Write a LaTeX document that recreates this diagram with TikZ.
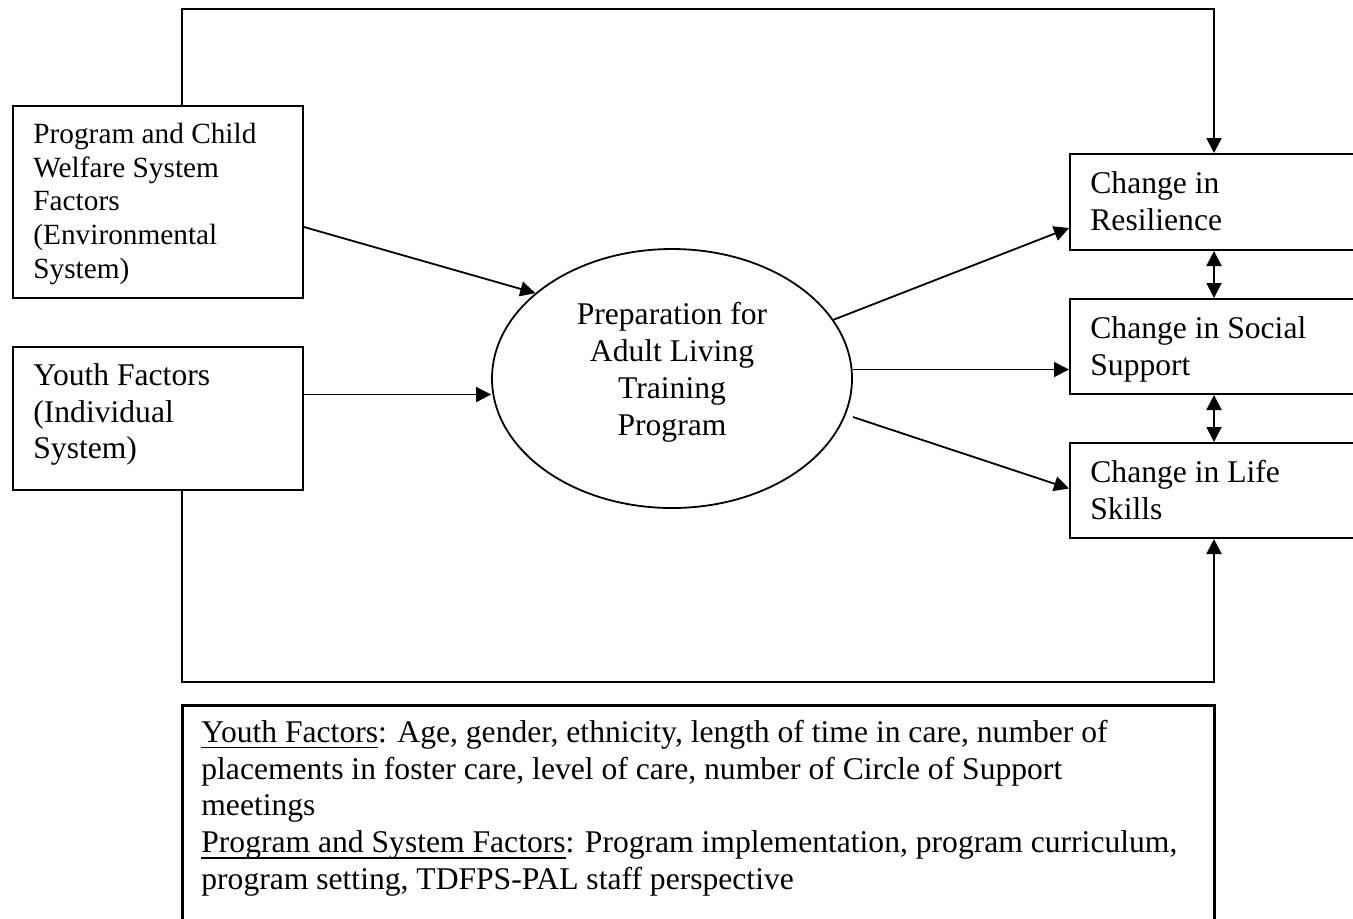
\documentclass[tikz,border=0pt]{standalone}
\usepackage{fontspec}
\setmainfont{Liberation Serif}
\usetikzlibrary{arrows.meta,shapes.geometric,calc}
\newcommand\myul[1]{\setbox0\hbox{#1}\rlap{\rule[-3pt]{\wd0}{0.7pt}}\box0}
\begin{document}
\begin{tikzpicture}[x=0.5pt,y=-0.5pt,
  box/.style={draw,line width=1pt,rectangle,inner sep=0pt,anchor=north west},
  txtA/.style={anchor=north west,inner sep=0pt,align=left,font=\fontsize{15.8}{18.4}\selectfont},
  txtB/.style={anchor=north west,inner sep=0pt,align=left,font=\fontsize{14.65}{16.85}\selectfont},
  conn/.style={line width=0.9pt},
  arr/.style={conn,-{Triangle[length=7.5pt,width=7.5pt]}},
  darr/.style={conn,{Triangle[length=7.5pt,width=7.5pt]}-{Triangle[length=7.5pt,width=7.5pt]}}
]
\useasboundingbox (0,0) rectangle (1353,918);
\fill[white] (0,0) rectangle (1353,918);
\clip (0,0) rectangle (1353,918);

% boxes
\node[box,minimum width=145pt,minimum height=96pt] (b1) at (12,105) {};
\node[box,minimum width=145pt,minimum height=71.5pt] (b2) at (12,346) {};
\node[box,minimum width=144pt,minimum height=48pt] (res) at (1069,153) {};
\node[box,minimum width=144pt,minimum height=47.5pt] (soc) at (1069,298) {};
\node[box,minimum width=144pt,minimum height=47.5pt] (life) at (1069,442) {};
\node[box,line width=1.4pt,minimum width=516pt,minimum height=120pt] (note) at (181,704) {};
\node[draw,ellipse,line width=0.9pt,minimum width=180pt,minimum height=129.5pt,inner sep=0pt] (ell) at (672,378.5) {};

% texts
\node[txtB] (b1t) at ($(b1.north west)+(21,14.4)$) {\strut Program and Child\\Welfare System\\Factors\\(Environmental\\System)};
\node[txtA] (b2t) at ($(b2.north west)+(21,13.2)$) {\strut Youth Factors\\(Individual\\System)};
\node[txtA] (rest) at ($(res.north west)+(21,14.2)$) {\strut Change in\\Resilience};
\node[txtA] (soct) at ($(soc.north west)+(21,14.2)$) {\strut Change in Social\\Support};
\node[txtA] (lifet) at ($(life.north west)+(21,14.2)$) {\strut Change in Life\\Skills};
\node[txtA,anchor=center,align=center] (ellt) at ([yshift=3pt]ell.center) {\strut Preparation for\\Adult Living\\Training\\Program\strut};
\node[txtA] (notet) at ($(note.north west)+(20,12.2)$) {\strut\myul{Youth Factors}: Age, gender, ethnicity, length of time in care, number of\\placements in foster care, level of care, number of Circle of Support\\meetings\\\myul{Program and System Factors}: Program implementation, program curriculum,\\program setting, TDFPS-PAL staff perspective};

% connectors
\coordinate (top) at (0,9);
\coordinate (bot) at (0,682);
\coordinate (b2o) at ([yshift=12pt]b2.east);
\coordinate (e2) at ([yshift=4.5pt]ell.east);
\coordinate (e3) at ([yshift=-19.25pt]ell.east);

\draw[arr] ([yshift=-12.5pt]b1.east) -- (ell.148);
\draw[arr] (b2o) -- (b2o -| ell.west);
\draw[arr] (ell.20) -- ([yshift=-13pt]res.west);
\draw[arr] (e2) -- (e2 -| soc.west);
\draw[arr] (e3) -- ([yshift=1pt]life.west);
\draw[darr] (res.south) -- (soc.north);
\draw[darr] (soc.south) -- (life.north);
\draw[arr] ([xshift=12pt]b1.north) -- ([xshift=12pt]b1.north |- top) -| (res.north);
\draw[arr] ([xshift=12pt]b2.south) -- ([xshift=12pt]b2.south |- bot) -| (life.south);
\end{tikzpicture}
\end{document}
